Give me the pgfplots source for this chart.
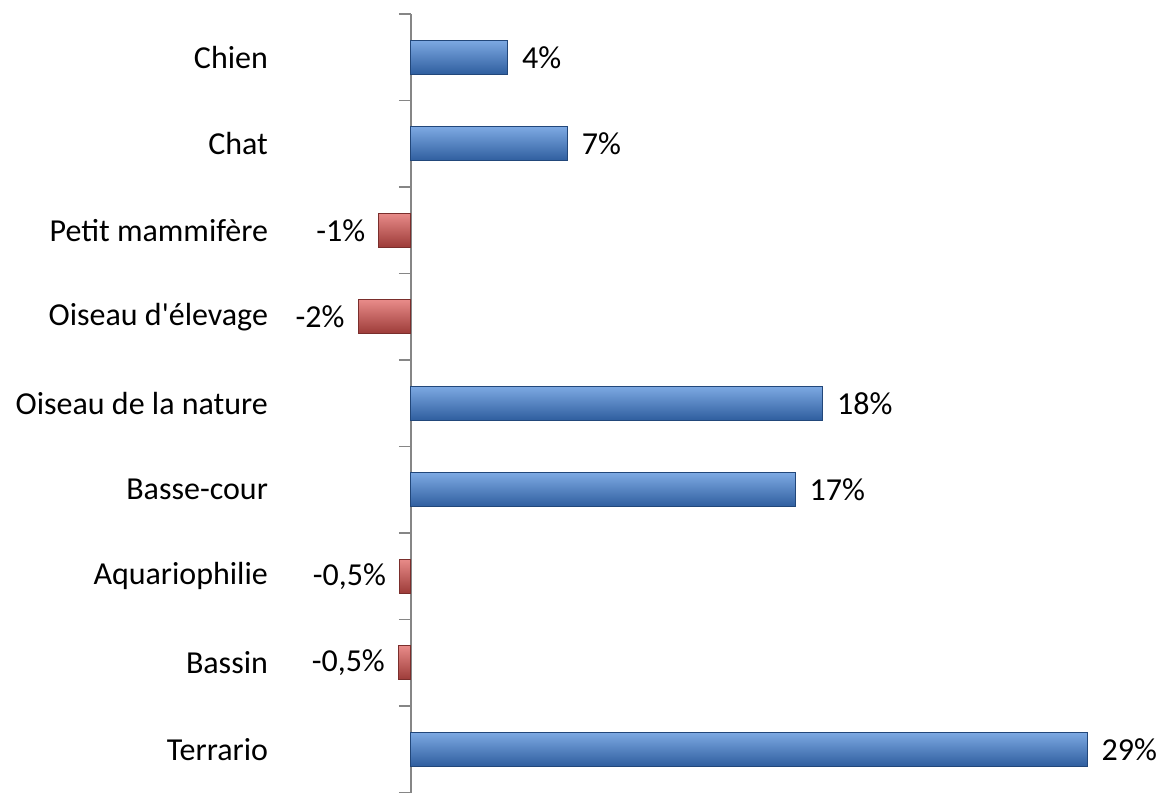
\documentclass[border=0pt]{standalone}
\usepackage{fontspec}
\setmainfont{Carlito}[Ligatures=TeXOff]
\usepackage{pgfplots}
\pgfplotsset{compat=1.18}
\definecolor{bluetop}{HTML}{7DA9E2}
\definecolor{bluemid}{HTML}{4A7EC2}
\definecolor{bluebot}{HTML}{2F5E9E}
\definecolor{blueedge}{HTML}{22477A}
\definecolor{redtop}{HTML}{E88B89}
\definecolor{redmid}{HTML}{C65451}
\definecolor{redbot}{HTML}{9C3B38}
\definecolor{rededge}{HTML}{7A2E2C}
\definecolor{axisgray}{HTML}{868686}
\begin{document}
\fontsize{16}{19}\selectfont
\begin{tikzpicture}
\useasboundingbox (-176.75pt,-0.75pt) rectangle (406.75pt,396.25pt);
\begin{axis}[
  scale only axis,
  width=373.75pt, height=389.25pt,
  xmin=-2.5, xmax=30,
  ymin=0.5, ymax=9.5,
  axis x line=none,
  axis y line=middle,
  axis line style={draw=axisgray, line width=0.8pt, -},
  ytick={1,...,9},
  yticklabels={Terrario,Bassin,Aquariophilie,Basse-cour,Oiseau de la nature,Oiseau d'élevage,Petit mammifère,Chat,Chien},
  minor ytick={0.5,1.5,...,9.5},
  major tick length=0pt,
  minor tick length=6pt,
  tick align=outside,
  minor tick style={draw=axisgray, line width=0.8pt},
  yticklabel style={anchor=east, xshift=-66pt, font=\fontsize{16}{19}\selectfont},
  xbar, bar width=17pt, bar shift=0pt,
  clip=false,
  point meta=explicit symbolic,
  nodes near coords,
  nodes near coords style={font=\fontsize{16}{19}\selectfont, text=black, inner sep=0pt},
  posbar/.style={draw=blueedge, line width=0.5pt, top color=bluetop, middle color=bluemid, bottom color=bluebot,
    every node near coord/.append style={anchor=west, xshift=7pt}},
  negbar/.style={draw=rededge, line width=0.5pt, top color=redtop, middle color=redmid, bottom color=redbot,
    every node near coord/.append style={anchor=east, xshift=-6.5pt}},
]
\addplot[posbar] coordinates {(4.2,9) [4\%]};
\addplot[posbar] coordinates {(6.8,8) [7\%]};
\addplot[negbar] coordinates {(-1.4,7) [-1\%]};
\addplot[negbar] coordinates {(-2.3,6) [-2\%]};
\addplot[posbar] coordinates {(17.9,5) [18\%]};
\addplot[posbar] coordinates {(16.7,4) [17\%]};
\addplot[negbar] coordinates {(-0.5,3) [-0,5\%]};
\addplot[negbar] coordinates {(-0.55,2) [-0,5\%]};
\addplot[posbar] coordinates {(29.4,1) [29\%]};
\end{axis}
\end{tikzpicture}
\end{document}
